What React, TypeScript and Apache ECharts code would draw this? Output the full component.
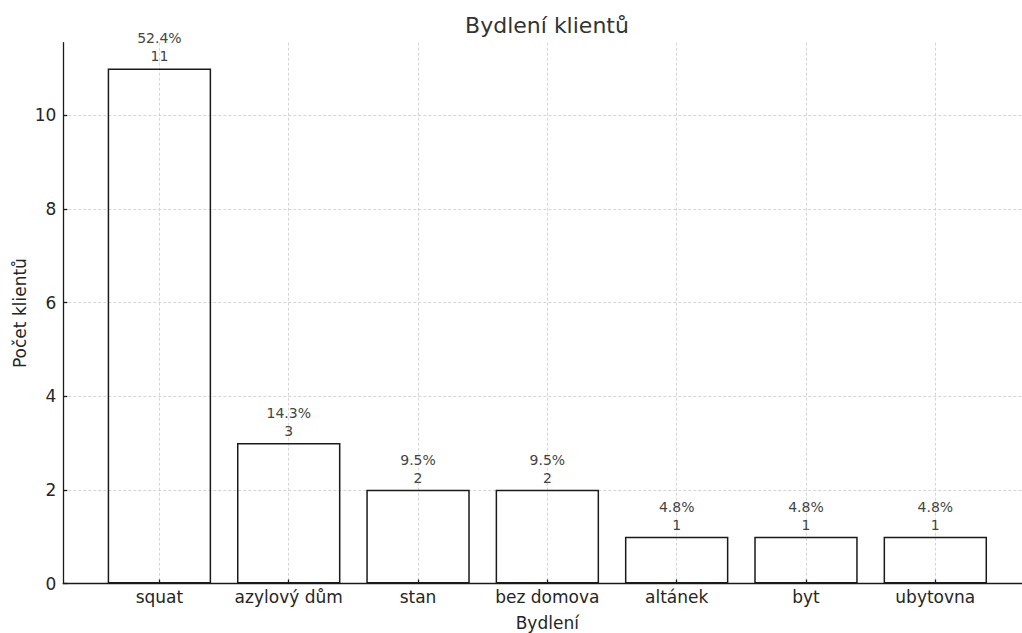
import React, { useEffect, useRef } from "react";
import * as echarts from "echarts";

// Housing of clients: counts per category
const categories = ["squat", "azylový dům", "stan", "bez domova", "altánek", "byt", "ubytovna"];
const counts = [11, 3, 2, 2, 1, 1, 1];
const yTicks = [0, 2, 4, 6, 8, 10];
const yMax = 11.55;

const titleText = "Bydlení klientů";
const xName = "Bydlení";
const yName = "Počet klientů";

const FONT = "DejaVu Sans";

export default function App() {
  const ref = useRef<HTMLDivElement>(null);

  useEffect(() => {
    if (!ref.current) return;
    const chart = echarts.init(ref.current, undefined, { renderer: "svg" });
    const total = counts.reduce((a, b) => a + b, 0);

    const gridLine = { color: "#cccccc", width: 0.8, type: [3, 2] as number[] };
    const spine = { color: "#1a1a1a", width: 1.3 };

    chart.setOption({
      animation: false,
      backgroundColor: "#ffffff",
      graphic: [
        {
          type: "text",
          x: 547,
          y: 25,
          style: {
            text: titleText,
            fontSize: 22,
            fontFamily: FONT,
            fill: "#333333",
            align: "center",
            verticalAlign: "middle",
            textAlign: "center",
            textVerticalAlign: "middle",
          },
        },
      ],
      grid: [
        { left: 63.3, top: 42.7, width: 968, height: 540.8, outerBoundsMode: "none", containLabel: false },
        { left: 159.4, top: 42.7, width: 775.9, height: 540.8, outerBoundsMode: "none", containLabel: false },
      ],
      xAxis: [
        {
          gridIndex: 0,
          type: "value",
          min: 0,
          max: 1,
          axisLine: { show: true, onZero: false, lineStyle: spine },
          axisTick: { show: false },
          axisLabel: { show: false },
          splitLine: { show: false },
          name: xName,
          nameLocation: "middle",
          nameGap: 31,
          nameMoveOverlap: false,
          nameTextStyle: { fontSize: 17, fontFamily: FONT, color: "#262626" },
        },
        {
          gridIndex: 1,
          type: "category",
          data: categories,
          boundaryGap: false,
          axisLine: { show: false },
          axisTick: { show: true, inside: true, length: 4, lineStyle: spine },
          axisLabel: {
            interval: 0,
            fontSize: 17,
            fontFamily: FONT,
            color: "#262626",
            margin: 5,
          },
          splitLine: { show: true, lineStyle: gridLine },
        },
      ],
      yAxis: [
        {
          gridIndex: 0,
          type: "value",
          min: 0,
          max: yMax,
          axisLine: { show: true, lineStyle: spine },
          axisTick: { show: true, inside: true, length: 4, lineStyle: spine, customValues: yTicks },
          axisLabel: {
            customValues: yTicks,
            fontSize: 17,
            fontFamily: FONT,
            color: "#262626",
            margin: 7,
          },
          splitLine: { show: true, lineStyle: gridLine },
          name: yName,
          nameLocation: "middle",
          nameGap: 35,
          nameMoveOverlap: false,
          nameTextStyle: { fontSize: 17, fontFamily: FONT, color: "#262626" },
        },
        {
          gridIndex: 1,
          type: "value",
          min: 0,
          max: yMax,
          show: false,
          splitLine: { show: false },
        },
      ],
      series: [
        {
          type: "bar",
          xAxisIndex: 1,
          yAxisIndex: 1,
          data: counts,
          barWidth: "80%",
          clip: false,
          silent: true,
          itemStyle: {
            color: "rgba(255,255,255,0)",
            borderColor: "#1a1a1a",
            borderWidth: 1.5,
          },
          label: {
            show: true,
            position: "top",
            distance: 3,
            fontSize: 14,
            lineHeight: 18,
            fontFamily: FONT,
            color: "#444444",
            formatter: (p: any) => `${((p.value / total) * 100).toFixed(1)}%\n${p.value}`,
          },
        },
      ],
    });

    return () => chart.dispose();
  }, []);

  return (
    <div
      ref={ref}
      style={{ position: "fixed", left: 0, top: 0, width: 1022, height: 633, background: "#fff" }}
    />
  );
}
